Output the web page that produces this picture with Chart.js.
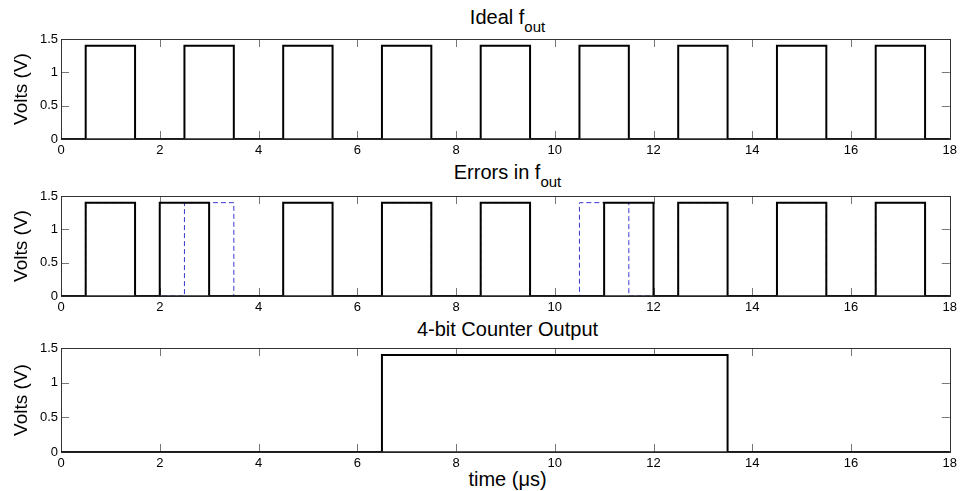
<!DOCTYPE html>
<html>
<head>
<meta charset="utf-8">
<script src="https://cdn.jsdelivr.net/npm/chart.js@4"></script>
<style>
  body { margin: 0; background: #fff; width: 961px; height: 491px; position: relative; overflow: hidden; }
  canvas { position: absolute; left: 0; }
  .ttl { position: absolute; left: 61px; width: 893px; text-align: center; font-family: "Liberation Sans", Arial, sans-serif; font-size: 20px; line-height: 20px; color: #000; }
  .ttl sub { font-size: 15px; vertical-align: -8px; line-height: 0; }
</style>
</head>
<body>
<div class="ttl" style="top:7px">Ideal f<sub>out</sub></div>
<div class="ttl" style="top:162px">Errors in f<sub>out</sub></div>
<div class="ttl" style="top:319px">4-bit Counter Output</div>
<div class="ttl" style="top:469px">time (&mu;s)</div>
<div style="position:absolute;left:0;top:27px;width:961px;height:132px"><canvas id="c1"></canvas></div>
<div style="position:absolute;left:0;top:184px;width:961px;height:132px"><canvas id="c2"></canvas></div>
<div style="position:absolute;left:0;top:336px;width:961px;height:136px"><canvas id="c3"></canvas></div>
<script>
// x / y ticks
const timeTicks = [0, 2, 4, 6, 8, 10, 12, 14, 16, 18];
const voltTicks = [0, 0.5, 1, 1.5];

// ideal f_out: switching times (us) and level after each switch (V)
const idealTime = [0, 0.5, 1.5, 2.5, 3.5, 4.5, 5.5, 6.5, 7.5, 8.5, 9.5, 10.5, 11.5, 12.5, 13.5, 14.5, 15.5, 16.5, 17.5, 18];
const idealVolts = [0, 1.4, 0, 1.4, 0, 1.4, 0, 1.4, 0, 1.4, 0, 1.4, 0, 1.4, 0, 1.4, 0, 1.4, 0, 0];

// f_out with errors
const errorTime = [0, 0.5, 1.5, 2, 3, 4.5, 5.5, 6.5, 7.5, 8.5, 9.5, 11, 12, 12.5, 13.5, 14.5, 15.5, 16.5, 17.5, 18];
const errorVolts = [0, 1.4, 0, 1.4, 0, 1.4, 0, 1.4, 0, 1.4, 0, 1.4, 0, 1.4, 0, 1.4, 0, 1.4, 0, 0];

// 4-bit counter output
const counterTime = [0, 6.5, 13.5, 18];
const counterVolts = [0, 1.4, 0, 0];

const FONT = '"Liberation Sans", Arial, sans-serif';

function pts(t, v) {
  return t.map((x, i) => ({ x: x, y: v[i] }));
}

// matlab-like box with ticks pointing inward
const boxPlugin = {
  id: 'box',
  beforeDatasetsDraw(chart) {
    const { ctx, chartArea: a, scales } = chart;
    ctx.save();
    ctx.strokeStyle = '#777';
    ctx.lineWidth = 1;
    ctx.beginPath();
    timeTicks.forEach(t => {
      const x = Math.round(scales.x.getPixelForValue(t)) + 0.5;
      ctx.moveTo(x, a.bottom); ctx.lineTo(x, a.bottom - 8);
      ctx.moveTo(x, a.top); ctx.lineTo(x, a.top + 8);
    });
    voltTicks.forEach(v => {
      const y = Math.round(scales.y.getPixelForValue(v)) + 0.5;
      ctx.moveTo(a.left, y); ctx.lineTo(a.left + 8, y);
      ctx.moveTo(a.right, y); ctx.lineTo(a.right - 8, y);
    });
    ctx.stroke();
    ctx.strokeStyle = '#333';
    ctx.strokeRect(Math.round(a.left) + 0.5, Math.round(a.top) + 0.5,
      Math.round(a.right - a.left), Math.round(a.bottom - a.top));
    ctx.restore();
  },
  afterDatasetsDraw(chart) {
    // axis line at y = 0 sits over the thin dashed trace
    const { ctx, chartArea: a } = chart;
    ctx.save();
    ctx.strokeStyle = '#222';
    ctx.lineWidth = 1.5;
    ctx.beginPath();
    ctx.moveTo(a.left, a.bottom);
    ctx.lineTo(a.right, a.bottom);
    ctx.stroke();
    ctx.restore();
  }
};

function makeChart(id, datasets) {
  return new Chart(document.getElementById(id), {
    type: 'line',
    data: { datasets: datasets },
    plugins: [boxPlugin],
    options: {
      responsive: true,
      maintainAspectRatio: false,
      animation: false,
      layout: { padding: { left: 0, right: 7, top: 12, bottom: 0 } },
      plugins: { legend: { display: false }, tooltip: { enabled: false } },
      elements: { point: { radius: 0 }, line: { tension: 0 } },
      scales: {
        x: {
          type: 'linear', min: 0, max: 18,
          afterBuildTicks: s => { s.ticks = timeTicks.map(v => ({ value: v })); },
          afterFit: s => { s.height = 20; },
          grid: { display: false, drawTicks: false },
          border: { display: false },
          ticks: { color: '#000', padding: 4, maxRotation: 0, font: { family: FONT, size: 13 } }
        },
        y: {
          min: 0, max: 1.5,
          afterBuildTicks: s => { s.ticks = voltTicks.map(v => ({ value: v })); },
          afterFit: s => { s.width = 61; },
          grid: { display: false, drawTicks: false },
          border: { display: false },
          ticks: { color: '#000', padding: 3, font: { family: FONT, size: 13 }, callback: v => String(v) },
          title: { display: true, text: 'Volts (V)', color: '#000', padding: { top: 10, bottom: 0 }, font: { family: FONT, size: 19 } }
        }
      }
    }
  });
}

makeChart('c1', [
  { data: pts(idealTime, idealVolts), stepped: true, borderColor: '#000', borderWidth: 2 }
]);

makeChart('c2', [
  { data: pts(errorTime, errorVolts), stepped: true, borderColor: '#000', borderWidth: 2, order: 0 },
  { data: pts(idealTime, idealVolts), stepped: true, borderColor: '#3a3ad0', borderWidth: 1, borderDash: [5, 3], order: 1 }
]);

makeChart('c3', [
  { data: pts(counterTime, counterVolts), stepped: true, borderColor: '#000', borderWidth: 2 }
]);
</script>
</body>
</html>
